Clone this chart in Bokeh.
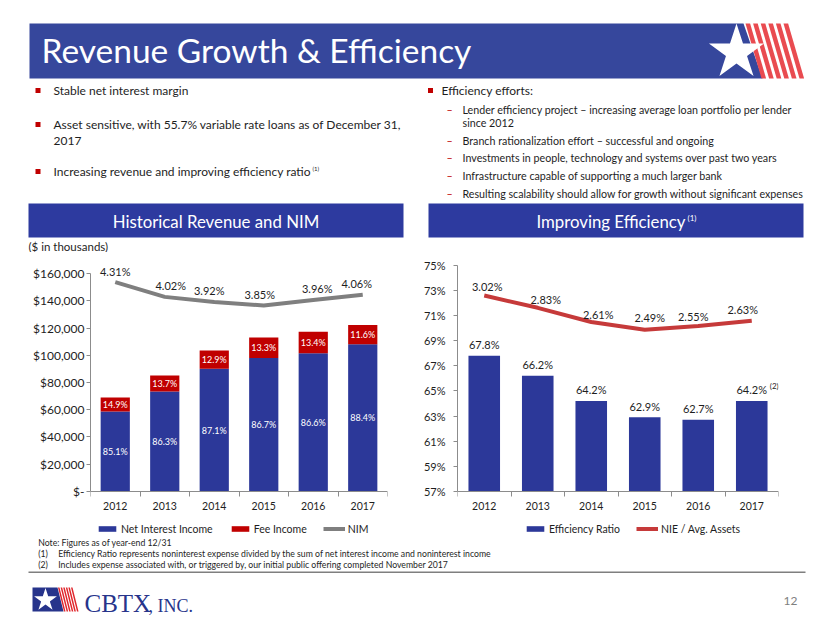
from bokeh.plotting import figure
from bokeh.models import Range1d, FixedTicker, Legend, LegendItem, ColumnDataSource
from bokeh.layouts import column, row
from bokeh.embed import file_html
from bokeh.resources import INLINE
from bokeh.core.properties import value

# ---------------- data ----------------
years = [2012, 2013, 2014, 2015, 2016, 2017]
year_labels = ["2012", "2013", "2014", "2015", "2016", "2017"]
total_revenue = [69000, 85100, 103500, 113000, 117200, 122200]   # $ thousands
nii_share = [85.1, 86.3, 87.1, 86.7, 86.6, 88.4]                  # % of revenue
fee_share = [14.9, 13.7, 12.9, 13.3, 13.4, 11.6]                  # % of revenue
nim = [4.31, 4.02, 3.92, 3.85, 3.96, 4.06]                        # %
efficiency_ratio = [67.8, 66.2, 64.2, 62.9, 62.7, 64.2]           # %
nie_avg_assets = [3.02, 2.83, 2.61, 2.49, 2.55, 2.63]             # %
rev_ticks = [0, 20000, 40000, 60000, 80000, 100000, 120000, 140000, 160000]
rev_tick_labels = ["$-", "$20,000", "$40,000", "$60,000", "$80,000",
                   "$100,000", "$120,000", "$140,000", "$160,000"]
eff_ticks = [57, 59, 61, 63, 65, 67, 69, 71, 73, 75]
eff_tick_labels = ["57%", "59%", "61%", "63%", "65%", "67%", "69%", "71%", "73%", "75%"]

left_bullets = ["Stable net interest margin",
                "Asset sensitive, with 55.7% variable rate loans as of December 31,",
                "2017",
                "Increasing revenue and improving efficiency ratio"]
right_head = "Efficiency efforts:"
right_sub = ["Lender efficiency project \u2013 increasing average loan portfolio per lender",
             "since 2012",
             "Branch rationalization effort \u2013 successful and ongoing",
             "Investments in people, technology and systems over past two years",
             "Infrastructure capable of supporting a much larger bank",
             "Resulting scalability should allow for growth without significant expenses"]
notes = ["Note: Figures as of year-end 12/31",
         "Efficiency Ratio represents noninterest expense divided by the sum of net interest income and noninterest income",
         "Includes expense associated with, or triggered by, our initial public offering completed November 2017"]

# ---------------- styles ----------------
FONT = "Lato"
TXT = "#1E1E1E"
BLUE = "#2C3899"
TITLE_BLUE = "#36479C"
BANNER_BLUE = "#2D3A9F"
RED = "#C00000"
STRIPE_RED = "#E94B50"
GRAY = "#7F7F7F"
NIE_RED = "#C63A3A"
AXIS_GRAY = "#8C8C8C"
LOGO_BLUE = "#27348B"


def blank(w, h, y_top):
    p = figure(width=w, height=h, x_range=Range1d(0, w), y_range=Range1d(y_top + h, y_top),
               output_backend="svg", toolbar_location=None, min_border=0,
               x_axis_type=None, y_axis_type=None)
    p.xgrid.visible = False
    p.ygrid.visible = False
    p.outline_line_color = None
    return p


def txt(p, x, y, s, size, color=TXT, align="left", baseline="middle", font=FONT, style="normal"):
    p.text(x=[x], y=[y], text=[s], text_font=value(font), text_font_size=f"{size}px",
           text_color=color, text_align=align, text_baseline=baseline, text_font_style=style)


# ---------------- top: title, bullets, banners ----------------
top = blank(817, 252, 0)
top.patch([29, 743, 762, 29], [23, 23, 78, 78], fill_color=TITLE_BLUE, line_color=None)
for i in range(6):
    x0 = 745 + i * 7.6
    top.patch([x0, x0 + 4.6, x0 + 20.6, x0 + 16], [23, 23, 78, 78], fill_color=STRIPE_RED, line_color=None)
top.scatter([736], [52], marker="star", size=58, fill_color="white", line_color=None)
txt(top, 41, 49.5, "Revenue Growth & Efficiency", 33.5, color="white")

lb_y = [90, 124, 140, 171]
top.scatter([37.5, 37.5, 37.5], [lb_y[0], lb_y[1], lb_y[3]], marker="square", size=5,
            fill_color=RED, line_color=None)
for s, y in zip(left_bullets, lb_y):
    txt(top, 53, y, s, 12)
txt(top, 312, 168, "(1)", 6)

top.scatter([430], [90], marker="square", size=5, fill_color=RED, line_color=None)
txt(top, 441, 90, right_head, 12)
rs_y = [108.5, 122, 139.5, 157, 175, 192.5]
for k, (s, y) in enumerate(zip(right_sub, rs_y)):
    if k != 1:
        txt(top, 446, y, "\u2013", 10.7, color=RED)
    txt(top, 462, y, s, 10.7)

top.quad(left=28, right=403, top=203, bottom=237, fill_color=BANNER_BLUE, line_color=None)
top.quad(left=428, right=803, top=203, bottom=237, fill_color=BANNER_BLUE, line_color=None)
txt(top, 215.5, 221, "Historical Revenue and NIM", 16.8, color="white", align="center")
txt(top, 685, 221, "Improving Efficiency", 16.8, color="white", align="right")
txt(top, 687, 217, "(1)", 8, color="white")
txt(top, 28, 246, "($ in thousands)", 11.5)

# ---------------- left chart ----------------
nii = [t * s / 100 for t, s in zip(total_revenue, nii_share)]
src_l = ColumnDataSource(dict(
    year=years, nii=nii, total=total_revenue,
    nii_mid=[n / 2 for n in nii],
    fee_mid=[(n + t) / 2 for n, t in zip(nii, total_revenue)],
    nii_lbl=[f"{v:.1f}%" for v in nii_share],
    fee_lbl=[f"{v:.1f}%" for v in fee_share],
    nim=nim, nim_lbl=[f"{v:.2f}%" for v in nim],
    dx=[0, 6, -5, -4, 4, -6],
))

left = figure(width=415, height=283, x_range=Range1d(2011.5, 2017.5), y_range=Range1d(-32294, 175413),
              output_backend="svg", toolbar_location=None,
              min_border_left=90, min_border_right=28, min_border_top=0, min_border_bottom=0)
left.extra_y_ranges = {"nim": Range1d(-0.691, 4.896)}
left.xgrid.visible = False
left.ygrid.visible = False
left.outline_line_color = None

r_nii = left.vbar(x="year", width=0.59, bottom=0, top="nii", source=src_l, fill_color=BLUE, line_color=None)
r_fee = left.vbar(x="year", width=0.59, bottom="nii", top="total", source=src_l, fill_color=RED, line_color=None)
r_nim = left.line(x="year", y="nim", y_range_name="nim", source=src_l, line_width=4, line_color=GRAY)
left.text(x="year", y="nii_mid", text="nii_lbl", source=src_l, text_font=value(FONT), text_font_size="9px",
          text_color="white", text_align="center", text_baseline="middle")
left.text(x="year", y="fee_mid", text="fee_lbl", source=src_l, text_font=value(FONT), text_font_size="9px",
          text_color="white", text_align="center", text_baseline="middle")
left.text(x="year", y="nim", text="nim_lbl", y_range_name="nim", source=src_l, x_offset="dx", y_offset=-11,
          text_font=value(FONT), text_font_size="11px", text_color=TXT, text_align="center", text_baseline="middle")

ya = left.yaxis[0]
ya.ticker = FixedTicker(ticks=rev_ticks)
ya.major_label_overrides = dict(zip(rev_ticks, rev_tick_labels))
ya.bounds = (0, 160000)
xa = left.xaxis[0]
xa.fixed_location = 0
xa.ticker = FixedTicker(ticks=years, minor_ticks=[2011.5 + i for i in range(7)])
xa.major_label_overrides = dict(zip(years, year_labels))

leg_l = Legend(items=[LegendItem(label="Net Interest Income", renderers=[r_nii]),
                      LegendItem(label="Fee Income", renderers=[r_fee]),
                      LegendItem(label="NIM", renderers=[r_nim])],
               orientation="horizontal", location=(6, 0))
left.add_layout(leg_l)

# ---------------- right chart ----------------
src_r = ColumnDataSource(dict(
    year=years, eff=efficiency_ratio, eff_lbl=[f"{v:.1f}%" for v in efficiency_ratio],
    nie=nie_avg_assets, nie_lbl=[f"{v:.2f}%" for v in nie_avg_assets],
    dx=[3, 8, 7, 5, -5, -9], dy=[-9, -8, -8, -12, -9, -11],
))
right = figure(width=402, height=283, x_range=Range1d(2011.5, 2017.5), y_range=Range1d(53.50, 76.01),
               output_backend="svg", toolbar_location=None,
               min_border_left=42, min_border_right=39, min_border_top=0, min_border_bottom=0)
right.extra_y_ranges = {"nie": Range1d(-0.689, 3.685)}
right.xgrid.visible = False
right.ygrid.visible = False
right.outline_line_color = None

r_eff = right.vbar(x="year", width=0.59, bottom=57, top="eff", source=src_r, fill_color=BLUE, line_color=None)
r_nie = right.line(x="year", y="nie", y_range_name="nie", source=src_r, line_width=4, line_color=NIE_RED)
right.text(x="year", y="eff", text="eff_lbl", source=src_r, y_offset=-11, text_font=value(FONT),
           text_font_size="11px", text_color=TXT, text_align="center", text_baseline="middle")
right.text(x="year", y="nie", text="nie_lbl", y_range_name="nie", source=src_r, x_offset="dx", y_offset="dy",
           text_font=value(FONT), text_font_size="11px", text_color=TXT, text_align="center", text_baseline="middle")
right.text(x=[years[-1]], y=[efficiency_ratio[-1]], text=["(2)"], x_offset=18, y_offset=-15,
           text_font=value(FONT), text_font_size="8px", text_color=TXT, text_align="left", text_baseline="middle")

ya = right.yaxis[0]
ya.ticker = FixedTicker(ticks=eff_ticks)
ya.major_label_overrides = dict(zip(eff_ticks, eff_tick_labels))
ya.bounds = (57, 75)
xa = right.xaxis[0]
xa.fixed_location = 57
xa.ticker = FixedTicker(ticks=years, minor_ticks=[2011.5 + i for i in range(7)])
xa.major_label_overrides = dict(zip(years, year_labels))

leg_r = Legend(items=[LegendItem(label="Efficiency Ratio", renderers=[r_eff]),
                      LegendItem(label="NIE / Avg. Assets", renderers=[r_nie])],
               orientation="horizontal", location=(67, 0))
right.add_layout(leg_r)

for p, lsz, stand in ((left, "12px", 2), (right, "11px", 8)):
    y = p.yaxis[0]
    y.axis_line_color = AXIS_GRAY
    y.major_tick_line_color = AXIS_GRAY
    y.major_tick_in = 0
    y.major_tick_out = 4
    y.minor_tick_line_color = None
    y.major_label_text_font = FONT
    y.major_label_text_font_size = lsz
    y.major_label_text_color = TXT
    y.major_label_standoff = stand
    x = p.xaxis[0]
    x.axis_line_color = AXIS_GRAY
    x.major_tick_line_color = None
    x.major_tick_in = 0
    x.major_tick_out = 0
    x.minor_tick_line_color = AXIS_GRAY
    x.minor_tick_in = 0
    x.minor_tick_out = 5
    x.major_label_text_font = FONT
    x.major_label_text_font_size = "10.5px"
    x.major_label_text_color = TXT
    x.major_label_standoff = 6
    lg = p.legend[0]
    lg.glyph_width = 22
    lg.glyph_height = 7
    lg.label_standoff = 3
    lg.spacing = 16
    lg.padding = 0
    lg.margin = 0
    lg.label_height = 13
    lg.border_line_color = None
    lg.background_fill_alpha = 0
    lg.label_text_font = FONT
    lg.label_text_font_size = "10.5px"
    lg.label_text_color = TXT

# ---------------- bottom: notes & logo ----------------
bot = blank(817, 84, 535)
txt(bot, 37.7, 541.7, notes[0], 8.7)
txt(bot, 37.7, 553.3, "(1)", 8.7)
txt(bot, 57.7, 553.3, notes[1], 8.7)
txt(bot, 37.7, 563.7, "(2)", 8.7)
txt(bot, 57.7, 563.7, notes[2], 8.7)
bot.line([28, 805], [571.7, 571.7], line_color=GRAY, line_width=1.5)

bot.patch([32, 57, 63, 32], [587, 587, 611, 611], fill_color=LOGO_BLUE, line_color=None)
for i in range(6):
    x0 = 57.5 + i * 2.6
    bot.patch([x0, x0 + 1.5, x0 + 7.5, x0 + 6], [587, 587, 611, 611], fill_color="#E0262C", line_color=None)
bot.scatter([45], [599.5], marker="star", size=24, fill_color="white", line_color=None)
txt(bot, 84, 603, "CBTX", 25, color=LOGO_BLUE, font="Liberation Serif")
txt(bot, 148, 605.2, ", INC.", 18, color=LOGO_BLUE, font="Liberation Serif")
txt(bot, 790, 600, "12", 12, color=GRAY, align="center")

layout = column(top, row(left, right), bot)
open("out.html", "w").write(file_html(layout, INLINE))
